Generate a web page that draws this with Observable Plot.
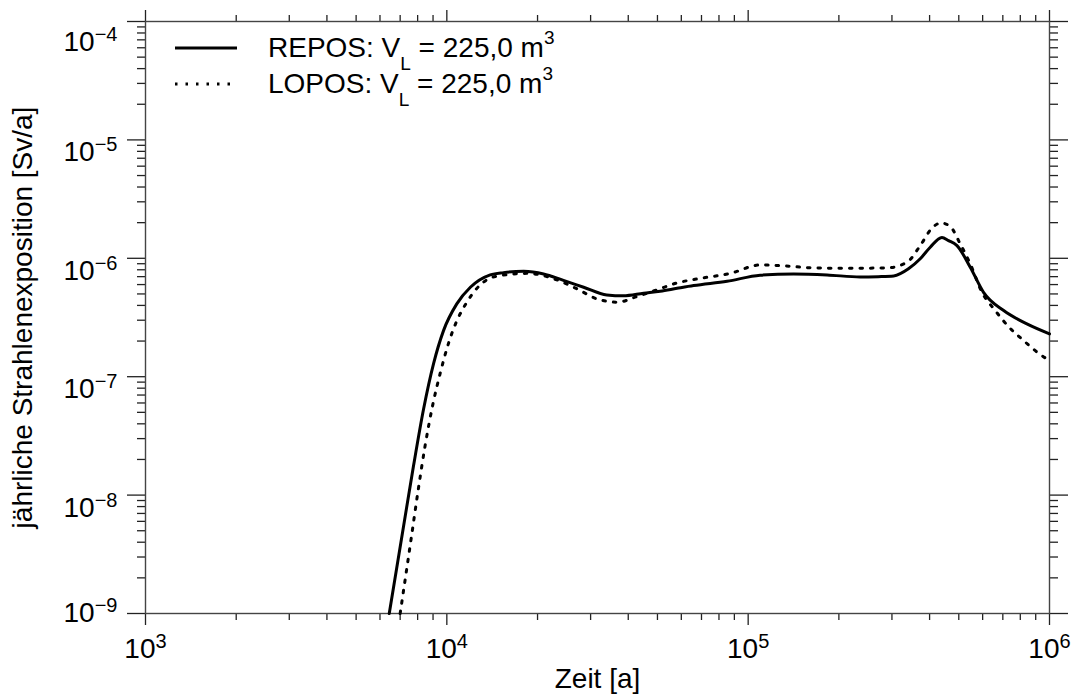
<!DOCTYPE html>
<html>
<head>
<meta charset="utf-8">
<script src="https://cdn.jsdelivr.net/npm/d3@7"></script>
<script src="https://cdn.jsdelivr.net/npm/@observablehq/plot@0.6"></script>
<style>
  html, body { margin: 0; padding: 0; background: #fff; }
  #wrap { position: relative; width: 1074px; height: 698px; font-family: "Liberation Sans", Arial, sans-serif; }
  #legend { position: absolute; left: 175px; top: 30px; font-size: 28px; color: #000; }
  #legend .row { display: flex; align-items: center; height: 36px; }
  #legend svg { flex: none; }
  #legend .lbl { margin-left: 31px; white-space: nowrap; line-height: 36px; height: 36px; }
  #legend .sub { font-size: 19px; position: relative; top: 13px; line-height: 0; }
  #legend .sup { font-size: 19px; position: relative; top: -13px; line-height: 0; }
</style>
</head>
<body>
<div id="wrap"><div id="chart"></div><div id="legend"></div></div>
<script>
// ---- data ----
const seriesNames = ["REPOS", "LOPOS"];
const legendVolume = "225,0";

const reposTime = [6440, 7180, 7745, 8375, 9036, 9750, 10790, 11970, 13930,
  15420, 17990, 20940, 24380, 28440, 33960, 38550, 44980, 51050, 58070,
  65920, 85110, 109600, 141600, 182800, 235500, 270000, 304100, 340400, 372400,
  402000, 439500, 462400, 493200, 545800, 604000, 704700, 841400, 1000000];
const reposDose = [1.0e-9, 5.4e-9, 1.74e-8, 5.36e-8, 1.29e-7, 2.45e-7, 4.12e-7, 5.69e-7, 7.24e-7,
  7.57e-7, 7.76e-7, 7.38e-7, 6.5e-7, 5.7e-7, 4.9e-7, 4.82e-7, 5.07e-7, 5.27e-7, 5.58e-7,
  5.89e-7, 6.4e-7, 7.2e-7, 7.38e-7, 7.24e-7, 6.95e-7, 7.0e-7, 7.1e-7, 8.15e-7, 9.9e-7,
  1.24e-6, 1.5e-6, 1.41e-6, 1.28e-6, 8.4e-7, 5.16e-7, 3.62e-7, 2.79e-7, 2.3e-7];

const loposTime = [7000, 7600, 8054, 8472, 8995, 9506, 10140, 10740, 11560, 12740,
  14490, 18450, 23170, 27040, 31480, 36730, 42760, 49770, 58070, 67610,
  87300, 109600, 127900, 164800, 212800, 289100, 336500, 372400, 407400, 436500,
  468800, 505800, 545800, 597000, 660700, 731100, 820400, 931100, 1000000];
const loposDose = [1.0e-9, 4.15e-9, 1.15e-8, 2.62e-8, 5.9e-8, 1.07e-7, 1.93e-7, 2.88e-7, 4.12e-7, 5.77e-7,
  7.02e-7, 7.46e-7, 6.58e-7, 5.52e-7, 4.54e-7, 4.26e-7, 4.75e-7, 5.41e-7, 6.19e-7, 6.7e-7,
  7.46e-7, 8.79e-7, 8.67e-7, 8.3e-7, 8.24e-7, 8.3e-7, 9.25e-7, 1.28e-6, 1.8e-6, 1.99e-6,
  1.85e-6, 1.32e-6, 8.97e-7, 5.16e-7, 3.62e-7, 2.65e-7, 2.02e-7, 1.54e-7, 1.37e-7];

const xMajorTicks = [1e3, 1e4, 1e5, 1e6];
const yMajorTicks = [1e-9, 1e-8, 1e-7, 1e-6, 1e-5, 1e-4];
const minorMultipliers = [2, 3, 4, 5, 6, 7, 8, 9];
const xTitle = "Zeit [a]";
const yTitle = "jährliche Strahlenexposition [Sv/a]";

// ---- build tables ----
const repos = reposTime.map((t, i) => ({t, v: reposDose[i]}));
const lopos = loposTime.map((t, i) => ({t, v: loposDose[i]}));
const xMinorTicks = xMajorTicks.slice(0, -1).flatMap(d => minorMultipliers.map(m => d * m));
const yMinorTicks = yMajorTicks.slice(0, -1).flatMap(d => minorMultipliers.map(m => d * m));
const expFormat = d => String(Math.round(Math.log10(d))).replace("-", "\u2212");

const FS = 28;
const tickColor = "#222";
const dotted = "2.5 8";
const chart = Plot.plot({
  width: 1074,
  height: 698,
  marginLeft: 145,
  marginRight: 25,
  marginTop: 21,
  marginBottom: 85,
  style: {fontFamily: "'Liberation Sans', Arial, sans-serif", fontSize: FS + "px", background: "#fff", color: "#000"},
  x: {type: "log", domain: [1e3, 1e6], label: null},
  y: {type: "log", domain: [1e-9, 1e-4], label: null},
  marks: [
    // bottom axis
    Plot.axisX(xMajorTicks, {anchor: "bottom", tickSize: 12, tickPadding: 13, stroke: tickColor, strokeWidth: 1.3, tickFormat: expFormat, fontSize: FS, label: null}),
    Plot.axisX(xMinorTicks, {anchor: "bottom", tickSize: 7, stroke: tickColor, strokeWidth: 1.3, fill: "none", label: null}),
    // top axis
    Plot.axisX(xMajorTicks, {anchor: "top", tickSize: 12, stroke: tickColor, strokeWidth: 1.3, fill: "none", label: null}),
    Plot.axisX(xMinorTicks, {anchor: "top", tickSize: 7, stroke: tickColor, strokeWidth: 1.3, fill: "none", label: null}),
    // left axis
    Plot.axisY(yMajorTicks, {anchor: "left", tickSize: 18, tickPadding: 10, stroke: tickColor, strokeWidth: 1.3, tickFormat: expFormat, fontSize: FS, label: null}),
    Plot.axisY(yMinorTicks, {anchor: "left", tickSize: 8, stroke: tickColor, strokeWidth: 1.3, fill: "none", label: null}),
    // right axis
    Plot.axisY(yMajorTicks, {anchor: "right", tickSize: 18, stroke: tickColor, strokeWidth: 1.3, fill: "none", label: null}),
    Plot.axisY(yMinorTicks, {anchor: "right", tickSize: 8, stroke: tickColor, strokeWidth: 1.3, fill: "none", label: null}),
    Plot.frame({stroke: "#444", strokeWidth: 1.4}),
    // titles
    Plot.text([xTitle], {text: d => d, frameAnchor: "bottom", lineAnchor: "middle", dy: 66, fontSize: FS, fill: "#000"}),
    Plot.text([yTitle], {text: d => d, frameAnchor: "left", textAnchor: "middle", rotate: -90, dx: -122, fontSize: FS, fill: "#000"}),
    // curves
    Plot.line(repos, {x: "t", y: "v", stroke: "#000", strokeWidth: 3, curve: "monotone-x"}),
    Plot.line(lopos, {x: "t", y: "v", stroke: "#000", strokeWidth: 3, strokeDasharray: dotted, curve: "monotone-x"})
  ]
});

// superscript exponents in tick labels
function superscriptLabels(svg, axis, extra) {
  d3.select(svg).selectAll(`g[aria-label="${axis}-axis tick label"] text`).each(function () {
    const t = d3.select(this);
    const e = t.text();
    if (!e) return;
    t.text("10");
    t.append("tspan").attr("dy", -10).attr("font-size", 20).text(e);
    if (extra) extra(t, e);
  });
}
superscriptLabels(chart, "x");
superscriptLabels(chart, "y", (t, e) => {
  // the end labels are kept inside the frame's vertical extent
  t.attr("dy", e === "\u22124" ? "0.72em" : e === "\u22129" ? "0em" : "0.45em");
});
document.getElementById("chart").appendChild(chart);

// legend
const legend = document.getElementById("legend");
const dashes = [null, dotted];
seriesNames.forEach((name, i) => {
  const row = document.createElement("div");
  row.className = "row";
  row.innerHTML =
    `<svg width="62" height="36"><line x1="0" x2="62" y1="18" y2="18" stroke="#000" stroke-width="3"${dashes[i] ? ` stroke-dasharray="${dashes[i]}"` : ""}/></svg>` +
    `<span class="lbl">${name}: V<span class="sub">L</span> = ${legendVolume} m<span class="sup">3</span></span>`;
  legend.appendChild(row);
});
</script>
</body>
</html>
